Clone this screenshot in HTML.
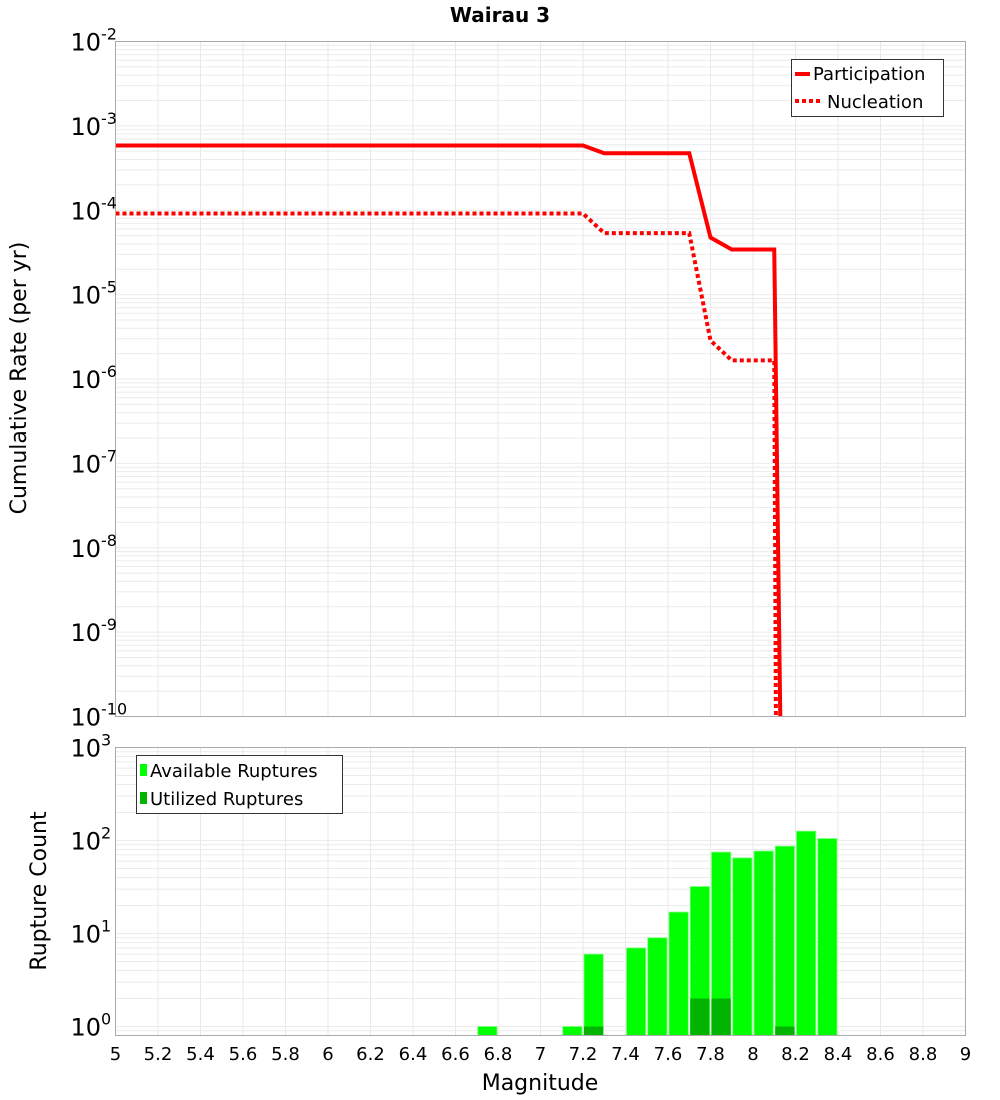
<!DOCTYPE html>
<html><head><meta charset="utf-8"><style>
body{margin:0;background:#fff;}
svg{display:block;font-family:"DejaVu Sans","Liberation Sans",sans-serif;}
</style></head><body>
<svg id="chart" width="1000" height="1100" viewBox="0 0 1000 1100" xmlns="http://www.w3.org/2000/svg">
<text x="500" y="22" text-anchor="middle" font-size="20" font-weight="bold">Wairau 3</text>
<g id="topg"></g>
<g id="botg"></g>
<text transform="translate(26,378) rotate(-90)" text-anchor="middle" font-size="22">Cumulative Rate (per yr)</text>
<text transform="translate(46,891) rotate(-90)" text-anchor="middle" font-size="22">Rupture Count</text>
<text x="540" y="1090" text-anchor="middle" font-size="22">Magnitude</text>
</svg>
<script>
// Data
const partMags = [5, 7.2, 7.3, 7.7, 7.8, 7.9, 8.1, 8.2];
const partRates = [5.85e-4, 5.85e-4, 4.74e-4, 4.74e-4, 4.75e-5, 3.43e-5, 3.43e-5, 1e-24];
const nuclMags = [5, 7.2, 7.3, 7.7, 7.8, 7.9, 8.1, 8.2];
const nuclRates = [9.14e-5, 9.14e-5, 5.35e-5, 5.35e-5, 2.86e-6, 1.66e-6, 1.66e-6, 1e-60];
const binMags = [6.7, 7.1, 7.2, 7.4, 7.5, 7.6, 7.7, 7.8, 7.9, 8.0, 8.1, 8.2, 8.3];
const availCounts = [1, 1, 6, 7, 9, 17, 32, 75, 65, 77, 87, 126, 105];
const usedMags = [7.2, 7.7, 7.8, 8.1];
const usedCounts = [1, 2, 2, 1];
const xTicks = [5,5.2,5.4,5.6,5.8,6,6.2,6.4,6.6,6.8,7,7.2,7.4,7.6,7.8,8,8.2,8.4,8.6,8.8,9];
const topExps = [-2,-3,-4,-5,-6,-7,-8,-9,-10];
const botExps = [3,2,1,0];

const NS="http://www.w3.org/2000/svg";
const L=115.5,R=965.5;
const X=m=>L+(m-5)*(R-L)/4;
const T0=41.5,T1=716.5;
const Ytop=v=>T0+(-2-Math.log10(v))*(T1-T0)/8;
const B0=747.5,B1=1035.5;
const Ybot=v=>B0+(3-Math.log10(v))*93;
function mk(p,tag,a){const e=document.createElementNS(NS,tag);for(const k in a)e.setAttribute(k,a[k]);p.appendChild(e);return e;}
const topG=document.getElementById('topg'),botG=document.getElementById('botg');

function grid(g,y0,y1,Yf,emin,emax){
  for(const t of xTicks){const l=mk(g,'line',{x1:X(t),x2:X(t),y1:y0,y2:y1,stroke:'#e8e8e8'});
    
    }
  for(let e=emin;e<emax;e++)for(let k=1;k<10;k++){const y=Yf(k*Math.pow(10,e));if(y<y0||y>y1)continue;
    const l=mk(g,'line',{x1:L,x2:R,y1:y,y2:y,stroke:'#ebebeb'});
    
    }
}
grid(topG,T0,T1,Ytop,-10,-2);
grid(botG,B0,B1,Ybot,-1,3);

const defs=mk(topG,'defs',{});
const cp=mk(defs,'clipPath',{id:'cp'});mk(cp,'rect',{x:L,y:T0,width:R-L,height:T1-T0});
function line(mags,rates,dash,name){
  const pts=mags.map((m,i)=>X(m)+','+Ytop(rates[i])).join(' ');
  const a={points:pts,fill:'none',stroke:'#ff0000','stroke-width':4,'clip-path':'url(#cp)'};
  if(dash)a['stroke-dasharray']='4,3';
  const p=mk(topG,'polyline',a);
  
  
}
line(partMags,partRates,false,'participation-line');
line(nuclMags,nuclRates,true,'nucleation-line');

binMags.forEach((m,i)=>{const y=Ybot(availCounts[i]);
  const r=mk(botG,'rect',{x:X(m)+1,y:y,width:X(m+0.1)-X(m)-2,height:B1-y,fill:'#00ff00',stroke:'#7dff7d','stroke-width':0.8});
  
  });
usedMags.forEach((m,i)=>{const y=Ybot(usedCounts[i]);
  const r=mk(botG,'rect',{x:X(m)+1,y:y,width:X(m+0.1)-X(m)-2,height:B1-y,fill:'#00b400'});
  
  });

const f1=mk(topG,'rect',{x:L,y:T0,width:R-L,height:T1-T0,fill:'none',stroke:'#aaa'});


const f2=mk(botG,'rect',{x:L,y:B0,width:R-L,height:B1-B0,fill:'none',stroke:'#aaa'});



function ylab(g,y,e,name){const t=mk(g,'text',{x:101,y:y+9,'text-anchor':'end','font-size':24});t.textContent='10';
  
  
  const s=mk(g,'text',{x:101,y:y-2,'font-size':16});s.textContent=String(e);
  
  }
topExps.forEach(e=>ylab(topG,Ytop(Math.pow(10,e)),e,'top-y-tick-label'));
botExps.forEach(e=>ylab(botG,Ybot(Math.pow(10,e)),e,'bottom-y-tick-label'));
xTicks.forEach(t=>{const l=mk(botG,'text',{x:X(t),y:1060,'text-anchor':'middle','font-size':18});
  l.textContent=String(t);
  
  });

const lg=mk(topG,'g',{});


mk(lg,'rect',{x:791.5,y:59.5,width:152,height:57,fill:'#fff',stroke:'#333'});
mk(lg,'line',{x1:795,x2:810,y1:74,y2:74,stroke:'#f00','stroke-width':4});
mk(lg,'line',{x1:795,x2:822,y1:101,y2:101,stroke:'#f00','stroke-width':4,'stroke-dasharray':'4,3'});
let tx=mk(lg,'text',{x:813,y:80,'font-size':18});tx.textContent='Participation';


tx=mk(lg,'text',{x:827,y:108,'font-size':18});tx.textContent='Nucleation';


const lg2=mk(botG,'g',{});


mk(lg2,'rect',{x:136.5,y:755.5,width:206,height:58,fill:'#fff',stroke:'#333'});
mk(lg2,'rect',{x:140,y:764,width:7,height:12,fill:'#00ff00'});
mk(lg2,'rect',{x:140,y:792,width:7,height:12,fill:'#00b400'});
tx=mk(lg2,'text',{x:150,y:777,'font-size':18});tx.textContent='Available Ruptures';


tx=mk(lg2,'text',{x:150,y:805,'font-size':18});tx.textContent='Utilized Ruptures';


</script>
</body></html>
